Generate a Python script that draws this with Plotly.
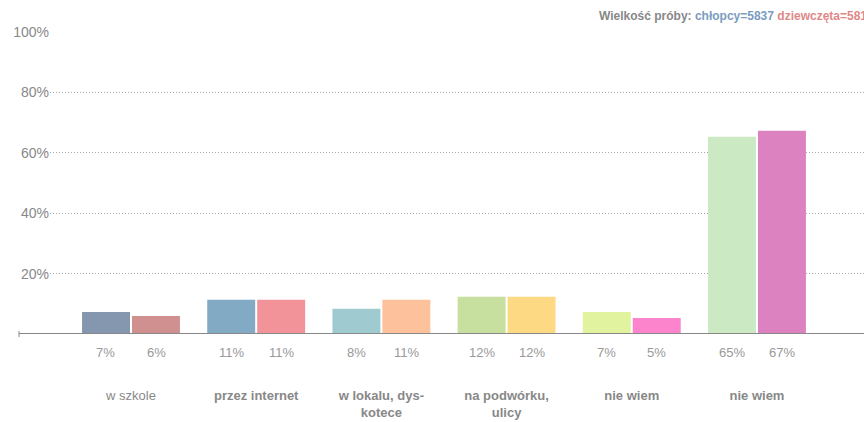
import plotly.graph_objects as go

categories = ["w szkole", "przez internet", "w lokalu, dys-<br>kotece", "na podwórku,<br>ulicy", "nie wiem", "nie wiem"]
bold_flags = [False, True, True, True, True, True]
boys = [7.3, 11.3, 8.4, 12.3, 7.3, 65.3]
girls = [6.0, 11.3, 11.3, 12.3, 5.3, 67.3]
boys_colors = ["#8497ae", "#82aac4", "#9fcbd0", "#c7df9f", "#e2f3a0", "#cbeac4"]
girls_colors = ["#d09090", "#f2939a", "#fdc29c", "#fdd984", "#fc84cc", "#dc82c0"]
y_ticks = [20, 40, 60, 80, 100]
y_tick_labels = ["20%", "40%", "60%", "80%", "100%"]

x = list(range(len(categories)))
ticktext = [f"<b>{c}</b>" if b else c for c, b in zip(categories, bold_flags)]

fig = go.Figure()
fig.add_trace(go.Bar(x=x, y=boys, marker=dict(color=boys_colors, line=dict(width=0)),
                     offset=-0.391, width=0.383, name="chłopcy", hoverinfo="skip"))
fig.add_trace(go.Bar(x=x, y=girls, marker=dict(color=girls_colors, line=dict(width=0)),
                     offset=0.008, width=0.383, name="dziewczęta", hoverinfo="skip"))

gray = "#888888"
annotations = []
for i in x:
    for off, v in ((-0.2, boys[i]), (0.2, girls[i])):
        annotations.append(dict(x=i + off, y=-18 / 302, xref="x", yref="paper",
                                text=f"{round(v)}%", showarrow=False,
                                font=dict(family="Liberation Sans, Arial", size=13, color="#999999"),
                                xanchor="center", yanchor="middle"))

annotations.append(dict(
    x=(597 - 50) / 814, y=(334 - 16) / 302, xref="paper", yref="paper",
    text="<b>Wielkość próby: <span style='color:#7b9bbf'>chłopcy=5837</span> "
         "<span style='color:#e08888'>dziewczęta=5814</span></b>",
    showarrow=False, xanchor="left", yanchor="middle",
    font=dict(family="Liberation Sans, Arial", size=12, color=gray)))

fig.update_layout(
    width=864, height=422,
    margin=dict(l=50, r=0, t=32, b=88, autoexpand=False),
    paper_bgcolor="white", plot_bgcolor="white",
    showlegend=False,
    hovermode=False,
    annotations=annotations,
    xaxis=dict(range=[-0.647, 5.855], tickvals=x, ticktext=ticktext,
               showgrid=False, zeroline=False, showline=False, ticks="",
               ticklabelstandoff=52, automargin=False,
               tickfont=dict(family="Liberation Sans, Arial", size=13, color=gray)),
    yaxis=dict(range=[0, 100], tickvals=y_ticks, ticktext=y_tick_labels,
               showgrid=True, gridcolor="#aaaaaa", griddash="1px,2px", gridwidth=1,
               zeroline=False, showline=False, ticks="", automargin=False,
               tickfont=dict(family="Liberation Sans Narrow, Liberation Sans, Arial Narrow", size=14, color=gray)),
    shapes=[
        dict(type="line", xref="paper", yref="y", x0=-31 / 814, x1=1, y0=0, y1=0,
             line=dict(color=gray, width=2)),
        dict(type="line", xref="paper", yref="paper", x0=-31 / 814, x1=-31 / 814,
             y0=-3 / 302, y1=3 / 302, line=dict(color=gray, width=1)),
    ],
)

fig.write_html("out.html", config={"displayModeBar": False},
               post_script="document.body.style.margin='0px';")
